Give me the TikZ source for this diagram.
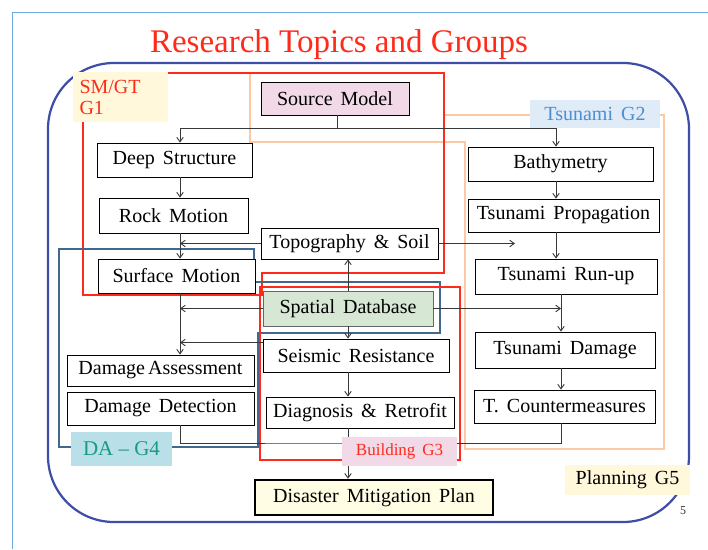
\documentclass[tikz,border=0pt]{standalone}
\usepackage{fontspec}
\setmainfont{Liberation Serif}[WordSpace=1.6]
\newfontfamily\titlefont{Liberation Serif}
\usetikzlibrary{arrows.meta}
\definecolor{frameblue}{HTML}{6FA8DC}
\definecolor{roundblue}{HTML}{3E4DA6}
\definecolor{gred}{HTML}{FF2A1A}
\definecolor{gorange}{HTML}{FBC9A4}
\definecolor{gsteel}{HTML}{41688F}
\definecolor{conncol}{HTML}{383838}
\definecolor{pinkfill}{HTML}{F2D9E8}
\definecolor{greenfill}{HTML}{D6E7D3}
\definecolor{yellowfill}{HTML}{FFFDE3}
\definecolor{creamfill}{HTML}{FFF8DA}
\definecolor{cyanfill}{HTML}{B9DFE8}
\definecolor{lbluefill}{HTML}{DFEBF6}
\definecolor{tealtext}{HTML}{1A9A8A}
\definecolor{bluetext}{HTML}{4A8FD6}
\newcommand\boxfnt{\fontsize{20}{21}\selectfont}
\begin{document}
\begin{tikzpicture}[x=1pt,y=-1pt,
  box/.style={draw=black, line width=0.9pt, fill=white, inner sep=0pt, font=\boxfnt},
  lab/.style={inner sep=0pt, font=\boxfnt},
  conn/.style={draw=conncol, line width=0.9pt},
  arr/.style={conn, -{Straight Barb[length=4.5pt,width=6.5pt]}},
  grp/.style={line width=2.2pt, line join=miter}]
\useasboundingbox (0,0) rectangle (708,549);
\fill[white] (0,0) rectangle (708,549);
\draw[frameblue, line width=0.8pt] (708,12) -- (12,12) -- (12,549);
\node[text=gred, font=\titlefont\fontsize{33}{36}\selectfont, inner sep=0pt] (title) at (339,45) {Research Topics and Groups};
% big rounded frame
\draw[roundblue, line width=2.2pt, rounded corners=66pt] (48,63) rectangle (689,522);
% group outlines
\draw[gorange, grp] (250,73) -- (444,73) -- (444,115) -- (664,115) -- (664,449) -- (465,449) -- (465,142) -- (250,142) -- cycle;
\draw[gred, grp] (83,73) -- (444,73) -- (444,273) -- (262,273) -- (262,295) -- (83,295) -- cycle;
\draw[gsteel, grp] (59,249) -- (254,249) -- (254,282) -- (440,282) -- (440,333) -- (258,333) -- (258,447) -- (59,447) -- cycle;
\draw[gred, grp] (260,287) -- (460,287) -- (460,460) -- (260,460) -- cycle;
% boxes
\node[box, fill=pinkfill, minimum width=148, minimum height=33] (src) at (335,98.5) {Source Model};
\node[box, minimum width=155, minimum height=34] (deep) at (174.5,160) {Deep Structure};
\node[box, minimum width=149, minimum height=35] (rock) at (173.5,215.5) {Rock Motion};
\node[box, minimum width=157, minimum height=34] (surf) at (176.5,276) {Surface Motion};
\node[box, minimum width=177, minimum height=31] (topo) at (349.5,243.5) {Topography \& Soil};
\node[box, draw=black!60, fill=greenfill, minimum width=170, minimum height=35] (sdb) at (348,308.5) {Spatial Database};
\node[box, minimum width=186, minimum height=33] (seis) at (356,355.5) {Seismic Resistance};
\node[box, minimum width=188, minimum height=31] (diag) at (360,412.5) {Diagnosis \& Retrofit};
\node[box, minimum width=187, minimum height=31] (dass) at (160.5,370.5) {Damage\hspace{3pt}Assessment};
\node[box, minimum width=187, minimum height=33] (ddet) at (160.5,408.5) {Damage Detection};
\node[box, minimum width=185, minimum height=34] (bathy) at (560.5,164) {Bathymetry};
\node[box, minimum width=191, minimum height=33] (tprop) at (563.5,215.5) {Tsunami Propagation};
\node[box, minimum width=182, minimum height=35] (trun) at (566,276.5) {Tsunami Run-up};
\node[box, minimum width=180, minimum height=36] (tdam) at (565,350) {Tsunami Damage};
\node[box, minimum width=181, minimum height=33] (tcm) at (564.5,406.5) {T. Countermeasures};
\node[box, line width=2.6pt, fill=yellowfill, minimum width=238, minimum height=35] (dmp) at (374,497.5) {Disaster Mitigation Plan};
% connector helpers
\coordinate (L) at (180,0);
\coordinate (M) at (348,0);
\coordinate (R1) at (556,0);
\coordinate (R2) at (561,0);
\coordinate (bus) at (337,128);
\coordinate (busB) at (348,443);
\coordinate (topoR) at (515,243.5);
\coordinate (srw) at ([yshift=-4pt]seis.north west);
% connectors
\draw[conn] (src.south -| bus) -- (bus);
\draw[arr] (bus) -| (deep.north -| L);
\draw[arr] (bus) -| (bathy.north -| R1);
\draw[arr] (deep.south -| L) -- (rock.north -| L);
\draw[arr] (rock.south -| L) -- (surf.north -| L);
\draw[arr] (topo.west) -- (topo.west -| L);
\draw[arr] (topo.east) -- (topoR);
\draw[arr] (bathy.south -| R1) -- (tprop.north -| R1);
\draw[arr] (tprop.south -| R1) -- (trun.north -| R1);
\draw[arr] (trun.south -| R2) -- (tdam.north -| R2);
\draw[arr] (tdam.south -| R2) -- (tcm.north -| R2);
\draw[arr] (sdb.east) -- (sdb.east -| R2);
\draw[arr] (sdb.north -| M) -- (topo.south -| M);
\draw[arr] (sdb.south -| M) -- (seis.north -| M);
\draw[arr] (seis.south -| M) -- (diag.north -| M);
\draw[arr] (surf.south -| L) -- (dass.north -| L);
\draw[arr] (sdb.west) -- (sdb.west -| L);
\draw[arr] (srw) -- (srw -| L);
\draw[conn] (ddet.south -| L) |- (busB) -| (tcm.south -| R2);
\draw[conn] (diag.south -| M) -- (busB);
\draw[arr] (busB) -- (dmp.north -| M);
% group labels
\node[lab, fill=creamfill, minimum width=95, minimum height=50, text width=82pt, align=left, text=gred] (g1) at (120.5,97) {SM/GT\\G1};
\node[lab, fill=lbluefill, minimum width=130, minimum height=28, text=bluetext] (g2) at (595,114) {Tsunami G2};
\node[lab, fill=cyanfill, minimum width=101, minimum height=34, text=tealtext, font=\titlefont\fontsize{21}{22}\selectfont] (g4) at (121.5,449) {DA – G4};
\node[lab, fill=pinkfill, minimum width=115, minimum height=29, text=gred, font=\fontsize{17}{18}\selectfont] (g3) at (399.5,451.5) {Building G3};
\node[lab, fill=creamfill, minimum width=125, minimum height=30] (g5) at (627.5,480) {Planning G5};
\node[inner sep=0pt, font=\fontsize{12}{13}\selectfont, text=black!80] (pg) at (683,511) {5};
\end{tikzpicture}
\end{document}
